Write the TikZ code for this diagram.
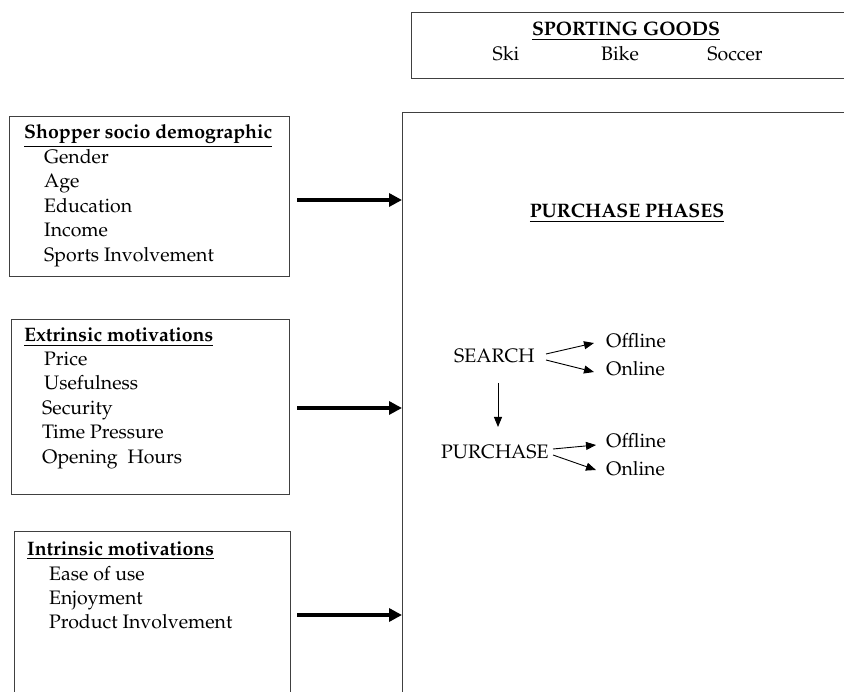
\documentclass[tikz,border=0pt]{standalone}
\usepackage[T1]{fontenc}
\usepackage{mathpazo}
\usetikzlibrary{arrows.meta}
\tikzset{
  box/.style={draw=black!75, line width=1.1pt, anchor=north west, inner sep=0pt},
  txt/.style={anchor=base west, inner sep=0pt, font=\fontsize{19.5}{23}\selectfont},
  ctxt/.style={anchor=base, inner sep=0pt, font=\fontsize{19.5}{23}\selectfont},
  bigarrow/.style={line width=4pt, -{Triangle[length=13pt,width=13pt]}},
  smallarrow/.style={line width=0.9pt, -{Triangle[length=10pt,width=8pt]}}
}
\begin{document}
\begin{tikzpicture}[x=1pt,y=-1pt]
\useasboundingbox (0,0) rectangle (844,692);
\clip (0,0) rectangle (844,692);
% boxes
\node[box, minimum width=440, minimum height=66] (goods) at (411,12) {};
\node[box, minimum width=500, minimum height=620] (phases) at (402,112) {};
\node[box, minimum width=280, minimum height=160] (demo) at (9,116) {};
\node[box, minimum width=278, minimum height=175] (extr) at (11,319) {};
\node[box, minimum width=276, minimum height=180] (intr) at (14,531) {};
% sporting goods
\node[ctxt] (goodsT) at (626,36) {\textbf{\underline{SPORTING GOODS}}};
\node[ctxt] (ski) at (506,61) {Ski};
\node[ctxt] (bike) at (620,61) {Bike};
\node[ctxt] (soccer) at (735,61) {Soccer};
% demographic
\node[txt] (demoT) at (24,139) {\textbf{\underline{Shopper socio demographic}}};
\node[txt] (d1) at (44,163.5) {Gender};
\node[txt] (d2) at (44,188) {Age};
\node[txt] (d3) at (44,212.5) {Education};
\node[txt] (d4) at (44,237) {Income};
\node[txt] (d5) at (44,261.5) {Sports Involvement};
% extrinsic
\node[txt] (extrT) at (24,342) {\textbf{\underline{Extrinsic motivations}}};
\node[txt] (e1) at (44,366) {Price};
\node[txt] (e2) at (44,390) {Usefulness};
\node[txt] (e3) at (42,415) {Security};
\node[txt] (e4) at (42,439) {Time Pressure};
\node[txt] (e5) at (42,464) {Opening\ \ Hours};
% intrinsic
\node[txt] (intrT) at (27,555) {\textbf{\underline{Intrinsic motivations}}};
\node[txt] (i1) at (49,580) {Ease of use};
\node[txt] (i2) at (49,604) {Enjoyment};
\node[txt] (i3) at (49,628) {Product Involvement};
% big arrows
\coordinate (a1) at (297,200);
\coordinate (a2) at (297,408);
\coordinate (a3) at (297,615);
\draw[bigarrow] (a1) -- (a1 -| phases.west);
\draw[bigarrow] (a2) -- (a2 -| phases.west);
\draw[bigarrow] (a3) -- (a3 -| phases.west);
% purchase phases
\node[ctxt] (phT) at (627,218) {\textbf{\underline{PURCHASE PHASES}}};
\node[txt] (search) at (454,363) {SEARCH};
\node[txt] (off1) at (606,348) {Offline};
\node[txt] (on1) at (606,376) {Online};
\node[txt] (purch) at (441,459) {PURCHASE};
\node[txt] (off2) at (606,448) {Offline};
\node[txt] (on2) at (606,476) {Online};
\coordinate (s1) at (546,354);
\coordinate (s2) at (546,360);
\coordinate (p1) at (553,449);
\coordinate (p2) at (553,455);
\coordinate (s1e) at (594,343);
\coordinate (s2e) at (594,372);
\coordinate (p1e) at (596,445);
\coordinate (p2e) at (596,470);
\draw[smallarrow] (s1) -- (s1e);
\draw[smallarrow] (s2) -- (s2e);
\draw[smallarrow] (p1) -- (p1e);
\draw[smallarrow] (p2) -- (p2e);
\coordinate (dtop) at (498,383);
\coordinate (dbot) at (498,427);
\draw[smallarrow] (dtop) -- (dbot);
\end{tikzpicture}
\end{document}
